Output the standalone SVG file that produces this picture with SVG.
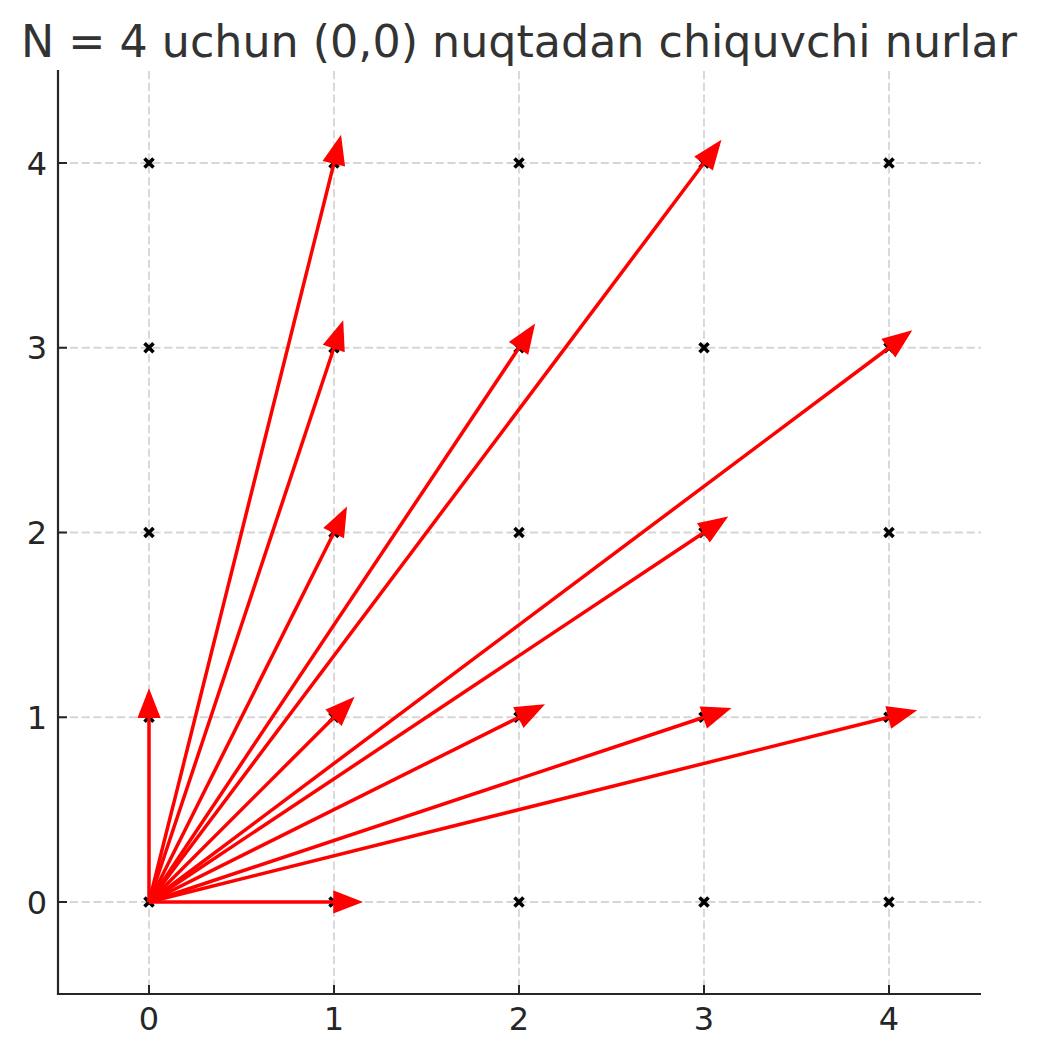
<svg xmlns="http://www.w3.org/2000/svg" xmlns:xlink="http://www.w3.org/1999/xlink" width="1038" height="1057" viewBox="0 0 1038 1057">
<style>
.grid{stroke:#d6d6d6;stroke-width:1.8;stroke-dasharray:8.2,3.6;fill:none}
.spine{stroke:#262626;stroke-width:2.2;fill:none}
.tick{stroke:#262626;stroke-width:2;fill:none}
.tl{font-family:"DejaVu Sans",sans-serif;font-size:32px;fill:#262626}
.title{font-family:"DejaVu Sans",sans-serif;font-size:45px;fill:#333333}
.ray{stroke:#ff0000;stroke-width:3.5;fill:none;marker-end:url(#head)}
.pt{stroke:#000;stroke-width:3.6;fill:none}
</style>
<defs>
<marker id="head" markerUnits="userSpaceOnUse" markerWidth="1" markerHeight="1" refX="0" refY="0" orient="auto" overflow="visible">
<path d="M0,-10.5 L27,0 L0,10.5 Z" fill="#ff0000" stroke="#ff0000" stroke-width="1.5" stroke-linejoin="miter"/>
</marker>
<path id="x" class="pt" d="M-4.5,-4.5 L4.5,4.5 M-4.5,4.5 L4.5,-4.5"/>
</defs>
<rect width="1038" height="1057" fill="#ffffff"/>
<text class="title" x="519" y="57" text-anchor="middle" textLength="996" lengthAdjust="spacingAndGlyphs">N = 4 uchun (0,0) nuqtadan chiquvchi nurlar</text>
<g id="grid">
<line class="grid" x1="149" y1="71" x2="149" y2="994"/>
<line class="grid" x1="334" y1="71" x2="334" y2="994"/>
<line class="grid" x1="519" y1="71" x2="519" y2="994"/>
<line class="grid" x1="704" y1="71" x2="704" y2="994"/>
<line class="grid" x1="889" y1="71" x2="889" y2="994"/>
<line class="grid" x1="58" y1="902" x2="981" y2="902"/>
<line class="grid" x1="58" y1="717.25" x2="981" y2="717.25"/>
<line class="grid" x1="58" y1="532.5" x2="981" y2="532.5"/>
<line class="grid" x1="58" y1="347.75" x2="981" y2="347.75"/>
<line class="grid" x1="58" y1="163" x2="981" y2="163"/>
</g>
<g id="axes">
<line class="spine" x1="58" y1="70" x2="58" y2="995"/>
<line class="spine" x1="57" y1="994" x2="981" y2="994"/>
<path class="tick" d="M149,994 V985 M334,994 V985 M519,994 V985 M704,994 V985 M889,994 V985 M58,902 H67 M58,717.25 H67 M58,532.5 H67 M58,347.75 H67 M58,163 H67"/>
<text class="tl" x="149" y="1030" text-anchor="middle">0</text>
<text class="tl" x="334" y="1030" text-anchor="middle">1</text>
<text class="tl" x="519" y="1030" text-anchor="middle">2</text>
<text class="tl" x="704" y="1030" text-anchor="middle">3</text>
<text class="tl" x="889" y="1030" text-anchor="middle">4</text>
<text class="tl" x="47" y="913.5" text-anchor="end">0</text>
<text class="tl" x="47" y="728.5" text-anchor="end">1</text>
<text class="tl" x="47" y="544" text-anchor="end">2</text>
<text class="tl" x="47" y="359" text-anchor="end">3</text>
<text class="tl" x="47" y="174.5" text-anchor="end">4</text>
</g>
<g id="points">
<g id="p00"><use href="#x" x="149" y="902"/></g>
<g id="p10"><use href="#x" x="334" y="902"/></g>
<g id="p20"><use href="#x" x="519" y="902"/></g>
<g id="p30"><use href="#x" x="704" y="902"/></g>
<g id="p40"><use href="#x" x="889" y="902"/></g>
<g id="p01"><use href="#x" x="149" y="717.25"/></g>
<g id="p11"><use href="#x" x="334" y="717.25"/></g>
<g id="p21"><use href="#x" x="519" y="717.25"/></g>
<g id="p31"><use href="#x" x="704" y="717.25"/></g>
<g id="p41"><use href="#x" x="889" y="717.25"/></g>
<g id="p02"><use href="#x" x="149" y="532.5"/></g>
<g id="p12"><use href="#x" x="334" y="532.5"/></g>
<g id="p22"><use href="#x" x="519" y="532.5"/></g>
<g id="p32"><use href="#x" x="704" y="532.5"/></g>
<g id="p42"><use href="#x" x="889" y="532.5"/></g>
<g id="p03"><use href="#x" x="149" y="347.75"/></g>
<g id="p13"><use href="#x" x="334" y="347.75"/></g>
<g id="p23"><use href="#x" x="519" y="347.75"/></g>
<g id="p33"><use href="#x" x="704" y="347.75"/></g>
<g id="p43"><use href="#x" x="889" y="347.75"/></g>
<g id="p04"><use href="#x" x="149" y="163"/></g>
<g id="p14"><use href="#x" x="334" y="163"/></g>
<g id="p24"><use href="#x" x="519" y="163"/></g>
<g id="p34"><use href="#x" x="704" y="163"/></g>
<g id="p44"><use href="#x" x="889" y="163"/></g>
</g>
<g id="connectors">
<line class="ray" x1="149" y1="902" x2="334" y2="902"/>
<line class="ray" x1="149" y1="902" x2="149" y2="717.25"/>
<line class="ray" x1="149" y1="902" x2="334" y2="717.25"/>
<line class="ray" x1="149" y1="902" x2="334" y2="532.5"/>
<line class="ray" x1="149" y1="902" x2="334" y2="347.75"/>
<line class="ray" x1="149" y1="902" x2="334" y2="163"/>
<line class="ray" x1="149" y1="902" x2="519" y2="717.25"/>
<line class="ray" x1="149" y1="902" x2="519" y2="347.75"/>
<line class="ray" x1="149" y1="902" x2="704" y2="717.25"/>
<line class="ray" x1="149" y1="902" x2="704" y2="532.5"/>
<line class="ray" x1="149" y1="902" x2="704" y2="163"/>
<line class="ray" x1="149" y1="902" x2="889" y2="717.25"/>
<line class="ray" x1="149" y1="902" x2="889" y2="347.75"/>
</g>
</svg>
